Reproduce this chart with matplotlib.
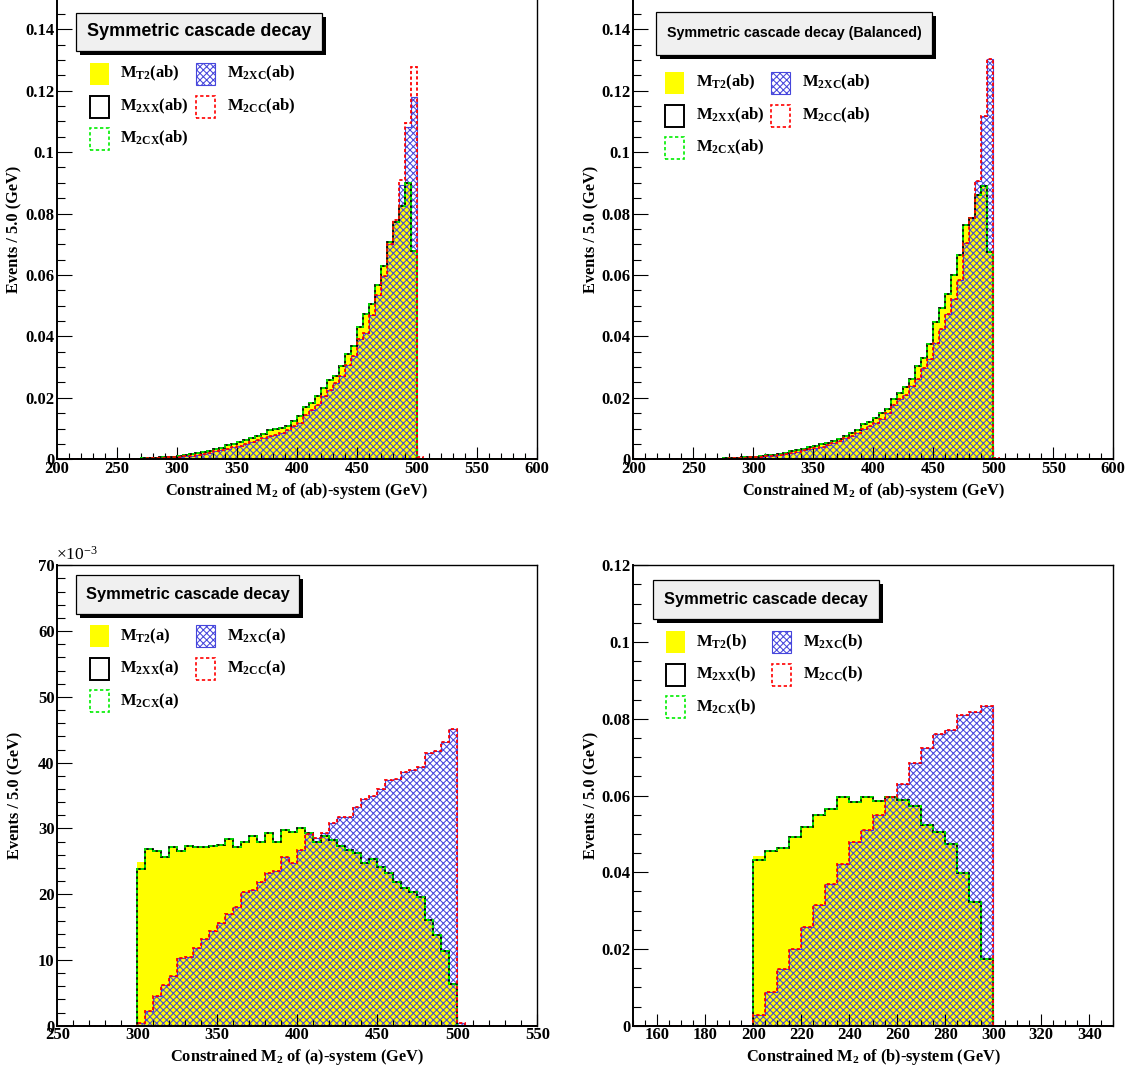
import matplotlib
matplotlib.use("Agg")
import matplotlib.pyplot as plt
import matplotlib.ticker as mtick
from matplotlib.patches import Rectangle
import numpy as np

plt.rcParams['font.family'] = ['Liberation Serif', 'DejaVu Serif']
plt.rcParams['font.weight'] = 'bold'
plt.rcParams['mathtext.fontset'] = 'custom'
plt.rcParams['mathtext.rm'] = 'Liberation Serif:bold'
plt.rcParams['mathtext.it'] = 'Liberation Serif:bold'
plt.rcParams['mathtext.bf'] = 'Liberation Serif:bold'
plt.rcParams['hatch.linewidth'] = 0.75

W, H = 1134, 1072
BIN = 5.0

YELLOW = '#ffff00'
BLUE = '#4646dc'
GREEN = '#00ee00'
DASH = (0, (1.8, 1.3))
HATCH = 'xxxxx'

# ---------------- data (events / 5 GeV) ----------------
# (ab)-system, first listed bin starts at 250 GeV
ab_start = 250
ab_mt2 = [0.0001, 0.0001, 0.0002, 0.0002, 0.0003, 0.0003, 0.0005, 0.0006, 0.0007, 0.0009,
          0.0011, 0.0014, 0.0016, 0.0019, 0.0023, 0.0027, 0.0033, 0.0037, 0.0045, 0.0051,
          0.0056, 0.0063, 0.0070, 0.0077, 0.0083, 0.0094, 0.0099, 0.0101, 0.0107, 0.0126,
          0.0140, 0.0170, 0.0183, 0.0207, 0.0232, 0.0259, 0.0272, 0.0305, 0.0344, 0.0368,
          0.0432, 0.0472, 0.0505, 0.0567, 0.0630, 0.0706, 0.0774, 0.0826, 0.0900, 0.0677, 0.0]
ab_m2xx = ab_mt2
ab_m2cx = ab_mt2
ab_m2xc = [0.0001, 0.0001, 0.0001, 0.0002, 0.0002, 0.0003, 0.0004, 0.0005, 0.0006, 0.0007,
           0.0008, 0.0010, 0.0012, 0.0015, 0.0018, 0.0021, 0.0026, 0.0029, 0.0034, 0.0040,
           0.0044, 0.0050, 0.0056, 0.0062, 0.0068, 0.0075, 0.0080, 0.0087, 0.0094, 0.0107,
           0.0118, 0.0145, 0.0159, 0.0178, 0.0205, 0.0227, 0.0249, 0.0272, 0.0308, 0.0336,
           0.0390, 0.0412, 0.0469, 0.0534, 0.0597, 0.0700, 0.0772, 0.0892, 0.1082, 0.1178, 0.0]
ab_m2cc = [0.0001, 0.0001, 0.0001, 0.0002, 0.0002, 0.0003, 0.0004, 0.0005, 0.0006, 0.0007,
           0.0008, 0.0010, 0.0012, 0.0015, 0.0018, 0.0021, 0.0026, 0.0029, 0.0034, 0.0040,
           0.0044, 0.0050, 0.0056, 0.0062, 0.0068, 0.0075, 0.0080, 0.0087, 0.0094, 0.0107,
           0.0118, 0.0145, 0.0159, 0.0178, 0.0205, 0.0227, 0.0249, 0.0272, 0.0308, 0.0336,
           0.0390, 0.0412, 0.0469, 0.0534, 0.0597, 0.0700, 0.0780, 0.0908, 0.1096, 0.1276, 0.0007]

# (ab)-system, balanced
bal_start = 250
bal_mt2 = [0.0001, 0.0001, 0.0001, 0.0002, 0.0002, 0.0003, 0.0004, 0.0005, 0.0006, 0.0007,
           0.0009, 0.0011, 0.0013, 0.0015, 0.0018, 0.0022, 0.0026, 0.0030, 0.0035, 0.0040,
           0.0044, 0.0049, 0.0054, 0.0058, 0.0066, 0.0077, 0.0085, 0.0096, 0.0116, 0.0120,
           0.0134, 0.0151, 0.0164, 0.0197, 0.0215, 0.0236, 0.0262, 0.0304, 0.0331, 0.0375,
           0.0446, 0.0492, 0.0539, 0.0601, 0.0664, 0.0763, 0.0785, 0.0861, 0.0889, 0.0675, 0.0]
bal_m2xx = bal_mt2
bal_m2cx = bal_mt2
bal_m2xc = [0.0001, 0.0001, 0.0001, 0.0001, 0.0002, 0.0002, 0.0003, 0.0004, 0.0005, 0.0006,
            0.0007, 0.0008, 0.0010, 0.0012, 0.0014, 0.0017, 0.0021, 0.0024, 0.0029, 0.0033,
            0.0037, 0.0041, 0.0046, 0.0052, 0.0058, 0.0069, 0.0077, 0.0087, 0.0098, 0.0107,
            0.0118, 0.0131, 0.0151, 0.0178, 0.0195, 0.0210, 0.0238, 0.0260, 0.0298, 0.0326,
            0.0380, 0.0424, 0.0473, 0.0522, 0.0583, 0.0703, 0.0785, 0.0907, 0.1118, 0.1304, 0.0004]
bal_m2cc = bal_m2xc

# (a)-system, in units of 1e-3, first bin 300 GeV
a_start = 300
a_mt2 = [24.9, 26.8, 26.5, 25.6, 27.2, 26.5, 27.3, 27.2, 27.2, 27.4,
         27.5, 28.4, 27.2, 27.9, 28.8, 27.9, 29.3, 28.0, 29.8, 29.5,
         30.0, 29.3, 28.0, 28.9, 28.3, 27.3, 26.7, 26.2, 24.8, 25.3,
         24.2, 23.2, 21.9, 20.9, 20.4, 19.6, 16.1, 13.8, 11.3, 6.4, 0.0]
a_m2xx = [23.9] + a_mt2[1:]
a_m2cx = a_m2xx
a_m2xc = [0.5, 2.2, 4.5, 6.2, 7.6, 10.3, 10.5, 11.9, 13.2, 14.4,
          15.6, 17.0, 18.1, 20.4, 20.7, 21.8, 23.2, 23.5, 25.7, 24.7,
          26.7, 29.2, 28.5, 29.3, 30.8, 31.7, 31.8, 33.3, 34.4, 34.9,
          36.0, 37.4, 37.5, 38.6, 38.9, 39.4, 41.4, 41.7, 43.1, 45.1, 0.5]
a_m2cc = a_m2xc

# (b)-system, first bin 200 GeV
b_start = 200
b_mt2 = [0.0442, 0.0455, 0.0464, 0.0492, 0.0517, 0.0549, 0.0566, 0.0596, 0.0582, 0.0596,
         0.0586, 0.0595, 0.0588, 0.0573, 0.0524, 0.0505, 0.0473, 0.0397, 0.0322, 0.0175]
b_m2xx = [0.0433] + b_mt2[1:]
b_m2cx = b_m2xx
b_m2xc = [0.0027, 0.0088, 0.0149, 0.0201, 0.0257, 0.0314, 0.0370, 0.0421, 0.0479, 0.0511,
          0.0549, 0.0596, 0.0630, 0.0684, 0.0723, 0.0760, 0.0772, 0.0810, 0.0818, 0.0833]
b_m2cc = b_m2xc


def full(start, vals, lo, hi):
    out = np.zeros(int(round((hi - lo) / BIN)))
    i0 = int(round((start - lo) / BIN))
    out[i0:i0 + len(vals)] = vals
    return out


def fx(x, y):
    # figure pixel (from top-left) -> figure fraction
    return x / W, 1 - y / H


fig = plt.figure(figsize=(W / 100, H / 100), dpi=100)

panels = [
    dict(box=(57, 0, 537, 459.3), xlim=(200, 600), ylim=(0, 0.1495), xt=(50, 10), yt=(0.02, 0.005),
         start=ab_start, h=(ab_mt2, ab_m2xx, ab_m2cx, ab_m2xc, ab_m2cc), tag='ab',
         title='Symmetric cascade decay', tbox=(76, 13, 322, 51), tsize=13,
         leg=(90, 196, 120, 227, (73.7, 106.7, 138.7)), open_top=True),
    dict(box=(633.3, 0, 1113.3, 459.3), xlim=(200, 600), ylim=(0, 0.1495), xt=(50, 10), yt=(0.02, 0.005),
         start=bal_start, h=(bal_mt2, bal_m2xx, bal_m2cx, bal_m2xc, bal_m2cc), tag='ab',
         title='Symmetric cascade decay (Balanced)', tbox=(656, 12, 932, 55), tsize=10.3,
         leg=(665, 771, 695.5, 802, (82.7, 115.7, 147.7)), open_top=True),
    dict(box=(57.3, 565.3, 537.3, 1025.8), xlim=(250, 550), ylim=(0, 70), xt=(50, 10), yt=(10, 2),
         start=a_start, h=(a_mt2, a_m2xx, a_m2cx, a_m2xc, a_m2cc), tag='a',
         title='Symmetric cascade decay', tbox=(76, 575, 299, 614), tsize=11.8,
         leg=(90, 196, 120, 227, (636.3, 668.8, 701.3)), open_top=False),
    dict(box=(633.3, 565.3, 1113.3, 1025.8), xlim=(150, 350), ylim=(0, 0.12), xt=(20, 5), yt=(0.02, 0.005),
         start=b_start, h=(b_mt2, b_m2xx, b_m2cx, b_m2xc, b_m2cc), tag='b',
         title='Symmetric cascade decay', tbox=(653, 580, 879, 619), tsize=11.8,
         leg=(666, 772, 696.5, 802.7, (642, 674.5, 707)), open_top=False),
]

for p in panels:
    x0, y0, x1, y1 = p['box']
    ax = fig.add_axes([x0 / W, 1 - y1 / H, (x1 - x0) / W, (y1 - y0) / H])
    lo, hi = p['xlim']
    edges = np.arange(lo, hi + BIN / 2, BIN)
    mt2, xx, cx, xc, cc = [full(p['start'], v, lo, hi) for v in p['h']]

    ax.stairs(mt2, edges, fill=True, color=YELLOW, lw=0, zorder=1)
    ax.stairs(xc, edges, fill=True, facecolor='none', edgecolor=BLUE, hatch=HATCH, lw=0.8, zorder=1.5)
    ax.stairs(xx, edges, color='black', lw=1.3, zorder=2, clip_on=False)
    ax.stairs(cx, edges, color=GREEN, lw=1.3, ls=DASH, zorder=2.1, clip_on=False)
    ax.stairs(cc, edges, color='red', lw=1.3, ls=DASH, zorder=2.2, clip_on=False)

    ax.set_xlim(lo, hi)
    ax.set_ylim(*p['ylim'])
    ax.xaxis.set_major_locator(mtick.MultipleLocator(p['xt'][0]))
    ax.xaxis.set_minor_locator(mtick.MultipleLocator(p['xt'][1]))
    ax.yaxis.set_major_locator(mtick.MultipleLocator(p['yt'][0]))
    ax.yaxis.set_minor_locator(mtick.MultipleLocator(p['yt'][1]))
    ax.yaxis.set_major_formatter(mtick.FuncFormatter(lambda v, _: '0' if abs(v) < 1e-12 else '%g' % round(v, 6)))
    ax.tick_params(axis='both', which='both', direction='in', top=False, right=False,
                   labelsize=12, width=0.8)
    ax.tick_params(axis='x', which='major', length=9, pad=1)
    ax.tick_params(axis='x', which='minor', length=4.5)
    ax.tick_params(axis='y', which='major', length=10.5, pad=2)
    ax.tick_params(axis='y', which='minor', length=5.5)
    for lab in ax.get_xticklabels() + ax.get_yticklabels():
        lab.set_fontweight('bold')
    for s in ax.spines.values():
        s.set_linewidth(1.0)
    ax.spines['left'].set_linewidth(1.4)
    ax.spines['bottom'].set_linewidth(1.4)
    if p['open_top']:
        ax.spines['top'].set_visible(False)

    ax.set_xlabel('Constrained M$_{2}$ of (%s)-system (GeV)' % p['tag'], fontsize=11.8, fontweight='bold')
    ax.set_ylabel('Events / 5.0 (GeV)', fontsize=11.8, fontweight='bold')
    ax.xaxis.label.set_va('center')
    ax.yaxis.label.set_va('center')
    ax.xaxis.set_label_coords(0.5, -31.5 / (y1 - y0))
    ax.yaxis.set_label_coords(-42.3 / (x1 - x0), 0.5)

    # title box with ROOT-like shadow
    bx0, by0, bx1, by1 = p['tbox']
    sh = 4
    fig.add_artist(Rectangle(fx(bx0 + sh, by1 + sh), (bx1 - bx0) / W, (by1 - by0) / H,
                             transform=fig.transFigure, fc='black', ec='none', zorder=5))
    fig.add_artist(Rectangle(fx(bx0, by1), (bx1 - bx0) / W, (by1 - by0) / H,
                             transform=fig.transFigure, fc='#f0f0f0', ec='black', lw=0.9, zorder=6))
    fig.text(*fx((bx0 + bx1) / 2, (by0 + by1) / 2), p['title'], family='Liberation Sans',
             fontweight='bold', fontsize=p['tsize'], ha='center', va='center', zorder=7)

    # legend
    sq1, sq2, tx1, tx2, rows = p['leg']
    t = p['tag']
    entries = [
        (sq1, tx1, rows[0], 'M$_{T2}$(%s)' % t, dict(fc=YELLOW, ec='none')),
        (sq1, tx1, rows[1], 'M$_{2XX}$(%s)' % t, dict(fc='white', ec='black', lw=1.4)),
        (sq1, tx1, rows[2], 'M$_{2CX}$(%s)' % t, dict(fc='white', ec=GREEN, lw=1.2, ls=(0, (2, 1.5)))),
        (sq2, tx2, rows[0], 'M$_{2XC}$(%s)' % t, dict(fc='white', ec=BLUE, lw=0.8, hatch=HATCH)),
        (sq2, tx2, rows[1], 'M$_{2CC}$(%s)' % t, dict(fc='white', ec='red', lw=1.2, ls=(0, (2, 1.5)))),
    ]
    for sx, tx, yc, label, style in entries:
        fig.add_artist(Rectangle(fx(sx, yc + 11), 19 / W, 22 / H, transform=fig.transFigure,
                                 zorder=6, **style))
        fig.text(*fx(tx, yc), label, fontsize=12, fontweight='bold', ha='left', va='center', zorder=7)

# exponent label of the (a) panel
fig.text(*fx(56, 564), '×10$^{\\mathregular{-3}}$', fontsize=12.5, fontweight='normal',
         ha='left', va='bottom')

fig.savefig('out.png', dpi=100)
